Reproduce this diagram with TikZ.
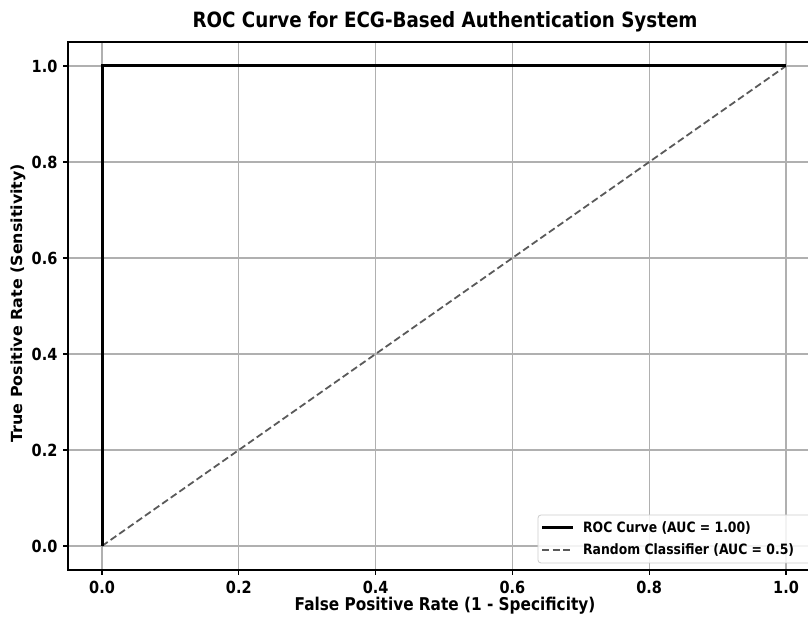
\documentclass[tikz,border=0pt]{standalone}
\usepackage{fontspec}
\setmainfont{DejaVu Sans}
\usepackage{tikz}
\usetikzlibrary{arrows,calc}
\definecolor{roc_grid}{RGB}{176, 176, 176}
\definecolor{roc_dash}{RGB}{90, 90, 90}
\definecolor{roc_frame}{RGB}{204, 204, 204}
\newcommand{\tallbox}[1]{\scalebox{1}[1.15]{#1}}
\newcommand{\longbox}[1]{\scalebox{1.04}[1]{#1}}
\tikzstyle{gridline}=[draw=roc_grid,line width=1.2pt]
\tikzstyle{axisframe}=[draw=black,line width=1.6pt]
\tikzstyle{tick}=[draw=black,line width=1.2pt]
\tikzstyle{xlab}=[font=\fontsize{14.5}{16}\selectfont\bfseries,anchor=center]
\tikzstyle{ylab}=[font=\fontsize{14.5}{16}\selectfont\bfseries,anchor=east]
\tikzstyle{axlabel}=[font=\fontsize{15.3}{17}\selectfont\bfseries]
\tikzstyle{rocline}=[draw=black,line width=3pt]
\tikzstyle{randline}=[draw=roc_dash,line width=1.8pt,dash pattern=on 7pt off 3.5pt]
\tikzstyle{legendbox}=[draw=roc_frame,fill=white,fill opacity=0.85,line width=0.8pt,rounded corners=3pt]
\tikzstyle{legendtext}=[font=\fontsize{12.4}{14}\selectfont\bfseries,anchor=west,inner sep=0pt]
\tikzstyle{none}=[inner sep=0pt]

\begin{document}
\begin{tikzpicture}[x=684pt,y=480pt]
            \useasboundingbox (-0.149123,-0.147917) rectangle (1.032164,1.1375);
            \clip (-0.149123,-0.147917) rectangle (1.032164,1.1375);
            % grid
            \draw [style=gridline] (0,-0.05) to (0,1.05);
            \draw [style=gridline] (0.2,-0.05) to (0.2,1.05);
            \draw [style=gridline] (0.4,-0.05) to (0.4,1.05);
            \draw [style=gridline] (0.6,-0.05) to (0.6,1.05);
            \draw [style=gridline] (0.8,-0.05) to (0.8,1.05);
            \draw [style=gridline] (1,-0.05) to (1,1.05);
            \draw [style=gridline] (-0.05,0) to (1.05,0);
            \draw [style=gridline] (-0.05,0.2) to (1.05,0.2);
            \draw [style=gridline] (-0.05,0.4) to (1.05,0.4);
            \draw [style=gridline] (-0.05,0.6) to (1.05,0.6);
            \draw [style=gridline] (-0.05,0.8) to (1.05,0.8);
            \draw [style=gridline] (-0.05,1) to (1.05,1);
            % curves
            \node [style=none] (0) at (0, 0) {};
            \node [style=none] (1) at (0, 1) {};
            \node [style=none] (2) at (1, 1) {};
            \draw [style=randline] (0.center) to (2.center);
            \draw [style=rocline,line join=miter] (0.center) -- (1.center) -- (2.center);
            % frame and ticks
            \draw [style=axisframe] (-0.05,-0.05) rectangle (1.05,1.05);
            \draw [style=tick] (0,-0.05) to ++(0,-5pt);
            \draw [style=tick] (0.2,-0.05) to ++(0,-5pt);
            \draw [style=tick] (0.4,-0.05) to ++(0,-5pt);
            \draw [style=tick] (0.6,-0.05) to ++(0,-5pt);
            \draw [style=tick] (0.8,-0.05) to ++(0,-5pt);
            \draw [style=tick] (1,-0.05) to ++(0,-5pt);
            \draw [style=tick] (-0.05,0) to ++(-5pt,0);
            \draw [style=tick] (-0.05,0.2) to ++(-5pt,0);
            \draw [style=tick] (-0.05,0.4) to ++(-5pt,0);
            \draw [style=tick] (-0.05,0.6) to ++(-5pt,0);
            \draw [style=tick] (-0.05,0.8) to ++(-5pt,0);
            \draw [style=tick] (-0.05,1) to ++(-5pt,0);
            % tick labels
            \node [style=xlab] (x0) at (0, -0.0854) {\tallbox{0.0}};
            \node [style=xlab] (x1) at (0.2, -0.0854) {\tallbox{0.2}};
            \node [style=xlab] (x2) at (0.4, -0.0854) {\tallbox{0.4}};
            \node [style=xlab] (x3) at (0.6, -0.0854) {\tallbox{0.6}};
            \node [style=xlab] (x4) at (0.8, -0.0854) {\tallbox{0.8}};
            \node [style=xlab] (x5) at (1, -0.0854) {\tallbox{1.0}};
            \node [style=ylab] (y0) at (-0.0600, 0) {\tallbox{0.0}};
            \node [style=ylab] (y1) at (-0.0600, 0.2) {\tallbox{0.2}};
            \node [style=ylab] (y2) at (-0.0600, 0.4) {\tallbox{0.4}};
            \node [style=ylab] (y3) at (-0.0600, 0.6) {\tallbox{0.6}};
            \node [style=ylab] (y4) at (-0.0600, 0.8) {\tallbox{0.8}};
            \node [style=ylab] (y5) at (-0.0600, 1) {\tallbox{1.0}};
            % labels
            \node [style=axlabel] (xaxis) at (0.5015, -0.125) {\tallbox{False Positive Rate (1 - Specificity)}};
            \node [style=axlabel,rotate=90] (yaxis) at (-0.1228, 0.506) {\longbox{True Positive Rate (Sensitivity)}};
            \node [font=\fontsize{18.3}{20}\selectfont\bfseries] (title) at (0.5015, 1.0917) {\tallbox{ROC Curve for ECG-Based Authentication System}};
            % legend
            \draw [style=legendbox] (0.6374,-0.0354) rectangle (1.08,0.0646);
            \node [style=none] (3) at (0.6433, 0.0375) {};
            \node [style=none] (4) at (0.6886, 0.0375) {};
            \node [style=none] (5) at (0.6433, -0.0083) {};
            \node [style=none] (6) at (0.6886, -0.0083) {};
            \draw [style=rocline] (3.center) to (4.center);
            \draw [style=randline] (5.center) to (6.center);
            \node [style=legendtext] (roc) at (0.7032, 0.0375) {\tallbox{ROC Curve (AUC = 1.00)}};
            \node [style=legendtext] (rand) at (0.7032, -0.0083) {\tallbox{Random Classifier (AUC = 0.5)}};
\end{tikzpicture}
\end{document}
